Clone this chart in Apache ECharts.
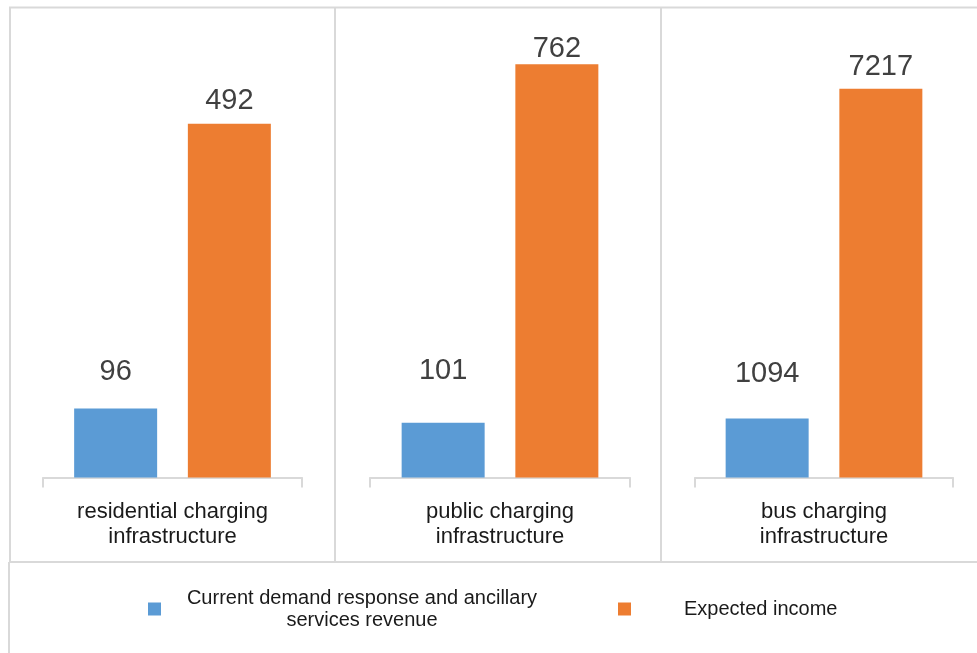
<!DOCTYPE html>
<html>
<head>
<meta charset="utf-8">
<script src="https://cdn.jsdelivr.net/npm/echarts@6/dist/echarts.min.js"></script>
<style>
html,body{margin:0;padding:0;background:#fff;}
#chart{width:977px;height:653px;}
</style>
</head>
<body>
<div id="chart"></div>
<script>
// ---- data ----
const categories = ['residential charging\ninfrastructure', 'public charging\ninfrastructure', 'bus charging\ninfrastructure'];
const seriesNames = ['Current demand response and ancillary services revenue', 'Expected income'];
const currentRevenue = [96, 101, 1094];
const expectedIncome = [492, 762, 7217];
const panelMax = [650, 862, 8680];

// ---- layout / style ----
const colors = ['#5b9bd5', '#ed7d31'];
const gridLefts = [43, 370, 695];
const gridWidths = [259, 260, 258];
const labelGap = [[22, 8], [37, 1], [30, 7]];
const lineColor = '#d9d9d9';
const font = '"Liberation Sans", Arial, sans-serif';

const grids = [], xAxes = [], yAxes = [], series = [];
for (let i = 0; i < 3; i++) {
  grids.push({left: gridLefts[i], width: gridWidths[i], top: 10, bottom: 175.5});
  xAxes.push({
    type: 'category', gridIndex: i, data: [categories[i]], offset: 4,
    axisLine: {lineStyle: {color: lineColor, width: 2}},
    axisTick: {show: true, length: 10, lineStyle: {color: lineColor, width: 2}},
    axisLabel: {margin: 18, color: '#1a1a1a', fontSize: 22, lineHeight: 25, fontFamily: font}
  });
  yAxes.push({type: 'value', gridIndex: i, min: 0, max: panelMax[i], show: false, splitLine: {show: false}});
  [currentRevenue, expectedIncome].forEach((arr, s) => {
    series.push({
      name: seriesNames[s], type: 'bar', xAxisIndex: i, yAxisIndex: i,
      barWidth: 83, barGap: '37%',
      itemStyle: {color: colors[s]},
      label: {show: true, position: 'top', distance: labelGap[i][s], color: '#404040', fontSize: 29, fontFamily: font},
      data: [arr[i]]
    });
  });
}

const chart = echarts.init(document.getElementById('chart'));
chart.setOption({
  animation: false,
  grid: grids, xAxis: xAxes, yAxis: yAxes, series: series,
  legend: [
    {
      data: [seriesNames[0]], left: 148, top: 587, padding: 0, selectedMode: false,
      icon: 'rect', itemWidth: 13, itemHeight: 13,
      formatter: () => '{s| }{a|Current demand response and ancillary}\n{s| }{a|services revenue}',
      textStyle: {
        color: '#1a1a1a', fontSize: 20, lineHeight: 22, fontFamily: font,
        rich: {
          s: {width: 18, fontSize: 20, lineHeight: 22},
          a: {width: 356, align: 'center', color: '#1a1a1a', fontSize: 20, lineHeight: 22, fontFamily: font}
        }
      }
    },
    {
      data: [seriesNames[1]], left: 618, top: 598, padding: 0, selectedMode: false,
      icon: 'rect', itemWidth: 13, itemHeight: 13,
      formatter: () => '{s| }{a|Expected income}',
      textStyle: {
        color: '#1a1a1a', fontSize: 20, lineHeight: 22, fontFamily: font,
        rich: {
          s: {width: 48, fontSize: 20, lineHeight: 22},
          a: {color: '#1a1a1a', fontSize: 20, lineHeight: 22, fontFamily: font}
        }
      }
    }
  ],
  graphic: [
    {type: 'line', shape: {x1: 9, y1: 7.5, x2: 977, y2: 7.5}, style: {stroke: lineColor, lineWidth: 2}, silent: true},
    {type: 'line', shape: {x1: 10, y1: 7, x2: 10, y2: 562}, style: {stroke: lineColor, lineWidth: 2}, silent: true},
    {type: 'line', shape: {x1: 9, y1: 562, x2: 9, y2: 653}, style: {stroke: lineColor, lineWidth: 2}, silent: true},
    {type: 'line', shape: {x1: 9, y1: 562, x2: 977, y2: 562}, style: {stroke: lineColor, lineWidth: 2}, silent: true},
    {type: 'line', shape: {x1: 335, y1: 7, x2: 335, y2: 562}, style: {stroke: lineColor, lineWidth: 2}, silent: true},
    {type: 'line', shape: {x1: 661, y1: 7, x2: 661, y2: 562}, style: {stroke: lineColor, lineWidth: 2}, silent: true}
  ]
});
</script>
</body>
</html>
